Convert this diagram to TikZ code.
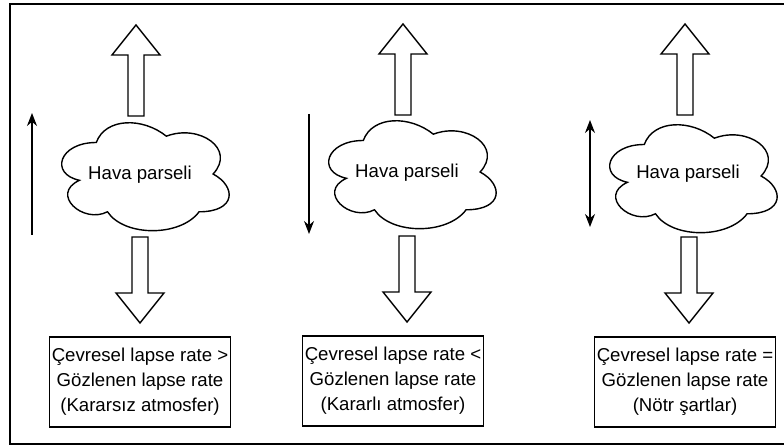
\documentclass[tikz,border=0pt]{standalone}
\usepackage{fontspec}
\setmainfont{Liberation Sans}
\usetikzlibrary{arrows.meta, positioning}

\begin{document}
\begin{tikzpicture}[
    x=0.02cm, y=-0.02cm,
    font=\fontsize{10.6}{14.2}\selectfont,
    result/.style={draw, line width=0.8pt, align=center, inner sep=0pt, minimum width=3.62cm, minimum height=1.8cm},
    parceltext/.style={inner sep=0pt},
    thinarrow/.style={line width=0.7pt, -{Stealth[length=2.6mm, width=2mm]}},
    bothways/.style={line width=0.7pt, {Stealth[length=2.6mm, width=2mm]}-{Stealth[length=2.6mm, width=2mm]}},
    parcel/.pic={
        \draw[line width=0.8pt, x=3.74cm, y=-2.52cm, shift={(-0.5,-0.5)}]
            (0.25,0.25) .. controls (0.05,0.25) and (0,0.5) .. (0.16,0.55)
            .. controls (0,0.66) and (0.18,0.9) .. (0.31,0.8)
            .. controls (0.4,1) and (0.7,1) .. (0.8,0.8)
            .. controls (1,0.8) and (1,0.6) .. (0.875,0.5)
            .. controls (1,0.3) and (0.8,0.1) .. (0.625,0.2)
            .. controls (0.5,0.05) and (0.3,0.05) .. (0.25,0.25) -- cycle;
    },
    liftup/.pic={
        \draw[line width=0.8pt] (0,0) -- (24,30) -- (8,30) -- (8,91) -- (-8,91) -- (-8,30) -- (-24,30) -- cycle;
    },
    sinkdown/.pic={
        \draw[line width=0.8pt] (0,0) -- (24,-30) -- (8,-30) -- (8,-86) -- (-8,-86) -- (-8,-30) -- (-24,-30) -- cycle;
    }
]
\useasboundingbox (0,0) rectangle (784,448);

% frame
\draw[line width=1.1pt] (790,4) -- (10,4) -- (10,444) -- (790,444);

% unstable
\node (air1) [parceltext] at (140,175) {Hava parseli};
\pic at (143,174) {parcel};
\pic at (136,25) {liftup};
\pic at (140,323) {sinkdown};
\node (res1) [result] at (140,382) {Çevresel lapse rate >\\Gözlenen lapse rate\\(Kararsız atmosfer)};
\coordinate (low1) at (32,235);
\coordinate (high1) at (32,113);
\draw[thinarrow] (low1) -- (high1);

% stable
\node (air2) [parceltext] at (407,173) {Hava parseli};
\pic at (410,172) {parcel};
\pic at (403,24) {liftup};
\pic at (407,322) {sinkdown};
\node (res2) [result] at (393,381) {Çevresel lapse rate <\\Gözlenen lapse rate\\(Kararlı atmosfer)};
\coordinate (high2) at (309,114);
\coordinate (low2) at (309,234);
\draw[thinarrow] (high2) -- (low2);

% neutral
\node (air3) [parceltext] at (688,174) {Hava parseli};
\pic at (691,176) {parcel};
\pic at (685,24) {liftup};
\pic at (689,323) {sinkdown};
\node (res3) [result] at (685,382) {Çevresel lapse rate =\\Gözlenen lapse rate\\(Nötr şartlar)};
\coordinate (high3) at (590,120);
\coordinate (low3) at (590,227);
\draw[bothways] (high3) -- (low3);
\end{tikzpicture}
\end{document}
